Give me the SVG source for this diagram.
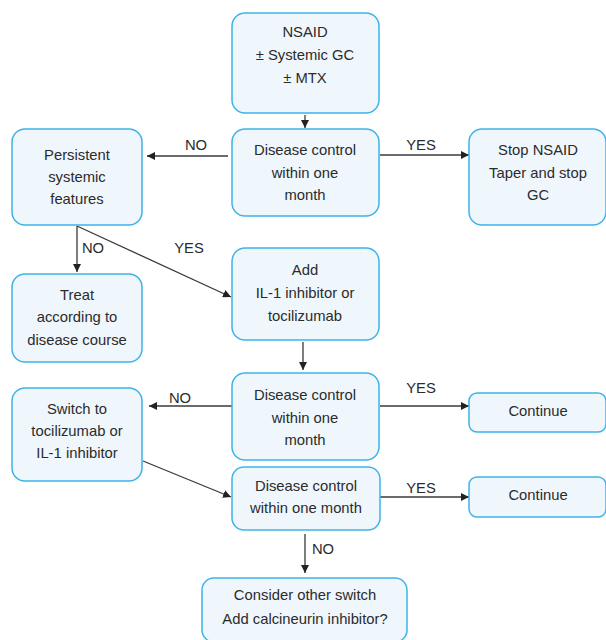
<svg xmlns="http://www.w3.org/2000/svg" width="606" height="640" viewBox="0 0 606 640">
<style>
.box{fill:#eff7fd;stroke:#3eb4e7;stroke-width:1.5}
.t{font-family:"Liberation Sans",Arial,sans-serif;font-size:14.8px;fill:#2b2b2b;text-anchor:middle}
.c{stroke:#3a3a3a;stroke-width:1.3;fill:none;marker-end:url(#ah)}
</style>
<defs>
<marker id="ah" viewBox="0 0 10 10" refX="10" refY="5" markerWidth="8" markerHeight="8" markerUnits="userSpaceOnUse" orient="auto">
<path d="M0,0 L10,5 L0,10 z" fill="#222"/>
</marker>
</defs>
<rect width="606" height="640" fill="#fff"/>
<g id="connectors">
<line class="c" x1="305" y1="115" x2="305" y2="128"/>
<text class="t" x="196" y="150">NO</text>
<line class="c" x1="228" y1="156" x2="147" y2="156"/>
<line class="c" x1="380" y1="155" x2="469" y2="155"/>
<text class="t" x="421" y="150">YES</text>
<line class="c" x1="77" y1="226" x2="77" y2="272"/>
<text class="t" x="93" y="253">NO</text>
<line class="c" x1="77" y1="226" x2="231" y2="297"/>
<text class="t" x="189" y="253">YES</text>
<line class="c" x1="303" y1="342" x2="303" y2="370"/>
<line class="c" x1="232" y1="406" x2="149" y2="406"/>
<text class="t" x="180" y="403">NO</text>
<line class="c" x1="380" y1="406" x2="469" y2="406"/>
<text class="t" x="421" y="393">YES</text>
<line class="c" x1="143" y1="461" x2="231" y2="497"/>
<line class="c" x1="380" y1="497" x2="469" y2="497"/>
<text class="t" x="421" y="493">YES</text>
<line class="c" x1="305" y1="534" x2="305" y2="573"/>
<text class="t" x="323" y="554">NO</text>
</g>
<g id="n1"><rect class="box" x="232" y="13" width="147" height="100" rx="13"/>
<text class="t" x="305" y="37">NSAID</text><text class="t" x="305" y="60">± Systemic GC</text><text class="t" x="305" y="83">± MTX</text></g>
<g id="n2"><rect class="box" x="232" y="129" width="147" height="87" rx="13"/>
<text class="t" x="305" y="155">Disease control</text><text class="t" x="305" y="178">within one</text><text class="t" x="305" y="200">month</text></g>
<g id="n3"><rect class="box" x="12" y="129" width="130" height="96" rx="13"/>
<text class="t" x="77" y="160">Persistent</text><text class="t" x="77" y="182">systemic</text><text class="t" x="77" y="204">features</text></g>
<g id="n4"><rect class="box" x="469" y="129" width="137" height="96" rx="13"/>
<text class="t" x="538" y="155">Stop NSAID</text><text class="t" x="538" y="178">Taper and stop</text><text class="t" x="538" y="200">GC</text></g>
<g id="n5"><rect class="box" x="232" y="248" width="147" height="92" rx="13"/>
<text class="t" x="305" y="275">Add</text><text class="t" x="305" y="298">IL-1 inhibitor or</text><text class="t" x="305" y="321">tocilizumab</text></g>
<g id="n6"><rect class="box" x="12" y="274" width="130" height="88" rx="13"/>
<text class="t" x="77" y="300">Treat</text><text class="t" x="77" y="322">according to</text><text class="t" x="77" y="345">disease course</text></g>
<g id="n7"><rect class="box" x="232" y="373" width="147" height="87" rx="13"/>
<text class="t" x="305" y="400">Disease control</text><text class="t" x="305" y="423">within one</text><text class="t" x="305" y="445">month</text></g>
<g id="n8"><rect class="box" x="12" y="388" width="130" height="93" rx="13"/>
<text class="t" x="77" y="414">Switch to</text><text class="t" x="77" y="436">tocilizumab or</text><text class="t" x="77" y="458">IL-1 inhibitor</text></g>
<g id="n9"><rect class="box" x="469" y="393" width="137" height="39" rx="8"/>
<text class="t" x="538" y="416">Continue</text></g>
<g id="n10"><rect class="box" x="232" y="467" width="148" height="63" rx="12"/>
<text class="t" x="306" y="491">Disease control</text><text class="t" x="306" y="513">within one month</text></g>
<g id="n11"><rect class="box" x="469" y="477" width="137" height="40" rx="8"/>
<text class="t" x="538" y="500">Continue</text></g>
<g id="n12"><rect class="box" x="202" y="578" width="205" height="64" rx="12"/>
<text class="t" x="305" y="600">Consider other switch</text><text class="t" x="305" y="624">Add calcineurin inhibitor?</text></g>
</svg>
